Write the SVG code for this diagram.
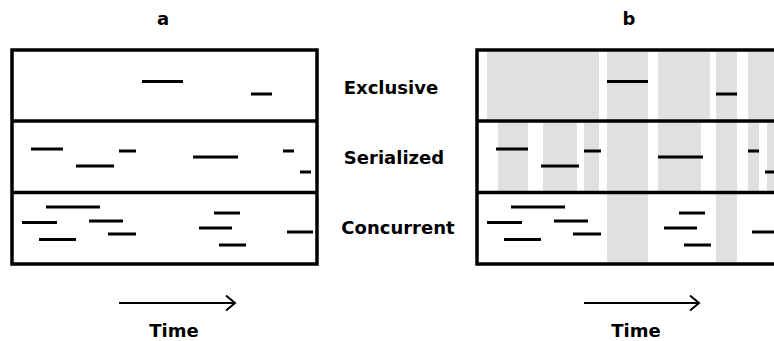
<svg xmlns="http://www.w3.org/2000/svg" xmlns:xlink="http://www.w3.org/1999/xlink" width="774" height="341" viewBox="0 0 774 341">
  <style>
    .frame { fill: none; stroke: #000; stroke-width: 3.5; }
    .div { stroke: #000; stroke-width: 3.5; }
    .seg { stroke: #000; stroke-width: 3; }
    .band { fill: #e0e0e0; }
    .lbl { font-family: "DejaVu Sans", Verdana, sans-serif; font-weight: bold; font-size: 18px; fill: #000; }
    .axis { stroke: #000; stroke-width: 2; fill: none; }
  </style>
  <defs>
    <!-- task segments shared by both panels -->
    <g id="segs">
      <!-- exclusive row -->
      <line class="seg" x1="142" y1="81.5" x2="183" y2="81.5"/>
      <line class="seg" x1="251" y1="94" x2="272" y2="94"/>
      <!-- serialized row -->
      <line class="seg" x1="31" y1="149" x2="63" y2="149"/>
      <line class="seg" x1="119" y1="151" x2="136" y2="151"/>
      <line class="seg" x1="76" y1="166" x2="114" y2="166"/>
      <line class="seg" x1="193" y1="157" x2="238" y2="157"/>
      <line class="seg" x1="283" y1="151" x2="294" y2="151"/>
      <line class="seg" x1="300" y1="172" x2="311" y2="172"/>
      <!-- concurrent row -->
      <line class="seg" x1="46" y1="207" x2="100" y2="207"/>
      <line class="seg" x1="22" y1="222.5" x2="57" y2="222.5"/>
      <line class="seg" x1="89" y1="221" x2="123" y2="221"/>
      <line class="seg" x1="39" y1="239.5" x2="76" y2="239.5"/>
      <line class="seg" x1="108" y1="234" x2="136" y2="234"/>
      <line class="seg" x1="214" y1="213" x2="240" y2="213"/>
      <line class="seg" x1="199" y1="228" x2="232" y2="228"/>
      <line class="seg" x1="219" y1="245" x2="246" y2="245"/>
      <line class="seg" x1="287" y1="232" x2="313" y2="232"/>
    </g>
    <g id="grid">
      <line class="div" x1="12" y1="121" x2="317" y2="121"/>
      <line class="div" x1="12" y1="192.5" x2="317" y2="192.5"/>
      <rect class="frame" x="12" y="50" width="305" height="214"/>
    </g>
  </defs>

  <!-- panel a: plain timeline -->
  <g id="panel-a">
    <text class="lbl" x="163" y="25" text-anchor="middle">a</text>
    <use xlink:href="#segs"/>
    <use xlink:href="#grid"/>
  </g>

  <!-- panel b: timeline with occupied intervals shaded -->
  <g id="panel-b">
    <text class="lbl" x="629" y="25" text-anchor="middle">b</text>
    <g id="bands">
      <!-- exclusive row -->
      <rect class="band" x="487" y="52" width="112" height="67"/>
      <rect class="band" x="658" y="52" width="52" height="67"/>
      <rect class="band" x="748" y="52" width="26" height="67"/>
      <!-- serialized row -->
      <rect class="band" x="498" y="123" width="30" height="68"/>
      <rect class="band" x="543" y="123" width="34" height="68"/>
      <rect class="band" x="584" y="123" width="15" height="68"/>
      <rect class="band" x="658" y="123" width="43" height="68"/>
      <rect class="band" x="748" y="123" width="11" height="68"/>
      <rect class="band" x="767" y="123" width="7" height="68"/>
      <!-- columns through all rows -->
      <rect class="band" x="607" y="52" width="41" height="210"/>
      <rect class="band" x="716" y="52" width="21" height="210"/>
    </g>
    <use xlink:href="#segs" x="465"/>
    <use xlink:href="#grid" x="465"/>
  </g>

  <!-- row labels -->
  <g id="row-labels">
    <text class="lbl" x="391" y="94" text-anchor="middle">Exclusive</text>
    <text class="lbl" x="394" y="164" text-anchor="middle">Serialized</text>
    <text class="lbl" x="398" y="234" text-anchor="middle">Concurrent</text>
  </g>

  <!-- time axes -->
  <g id="connectors">
    <line class="axis" x1="119" y1="303" x2="235" y2="303"/>
    <polyline class="axis" points="226,295.5 235,303 226,310.5"/>
    <line class="axis" x1="584" y1="303" x2="699" y2="303"/>
    <polyline class="axis" points="690,295.5 699,303 690,310.5"/>
  </g>
  <text class="lbl" x="174" y="337" text-anchor="middle">Time</text>
  <text class="lbl" x="636" y="337" text-anchor="middle">Time</text>
</svg>
